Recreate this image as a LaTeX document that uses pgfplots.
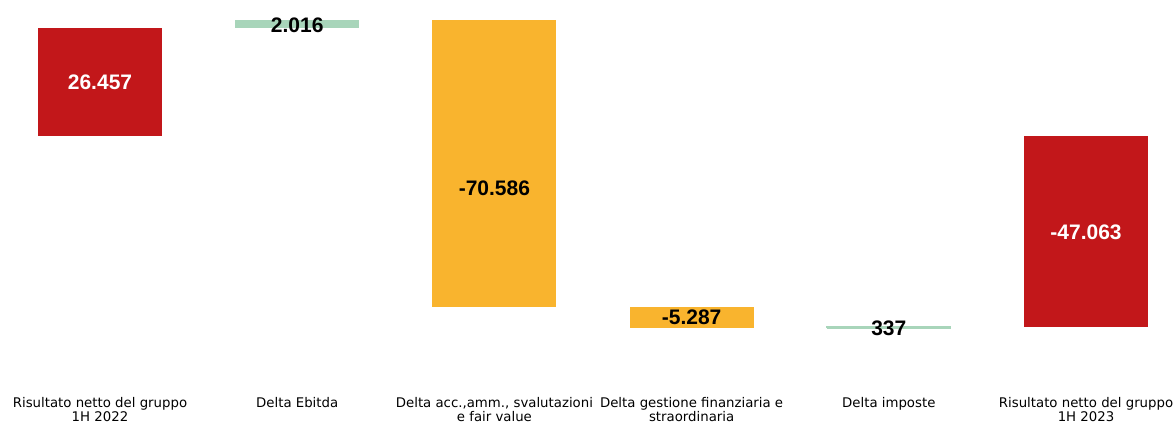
\documentclass[border=0pt]{standalone}
\usepackage{pgfplots}
\pgfplotsset{compat=1.18}
\usepackage{fontspec}
\setmainfont{DejaVu Sans}
\newfontfamily\valfont{Liberation Sans}
\definecolor{barred}{RGB}{194,23,26}
\definecolor{barorange}{RGB}{249,180,46}
\definecolor{bargreen}{RGB}{168,213,186}

\begin{document}
\begin{tikzpicture}
\path[use as bounding box] (0,0) rectangle (1176pt,-423pt);
\begin{axis}[
  at={(0,0)}, anchor=north west,
  scale only axis, width=1176pt, height=385pt,
  xmin=-0.5071, xmax=5.4564, ymin=-61404, ymax=33424,
  axis line style={draw=none},
  major tick length=0pt,
  ytick=\empty,
  xtick={0,1,2,3,4,5},
  xticklabels={{Risultato netto del gruppo\\1H 2022}, {Delta Ebitda}, {Delta acc.,amm., svalutazioni\\e fair value}, {Delta gestione finanziaria e\\straordinaria}, {Delta imposte}, {Risultato netto del gruppo\\1H 2023}},
  xticklabel style={font=\fontsize{13.3}{14.5}\selectfont, align=center, inner sep=0pt, anchor=north, yshift=-11.8pt},
  clip=false,
]
% waterfall bars: (x - w/2, low) .. (x + w/2, high)
\addplot[fill=barred, draw=none, mark=none] coordinates {(-0.3144,0) (0.3144,0) (0.3144,26457) (-0.3144,26457)};
\addplot[fill=bargreen, draw=none, mark=none] coordinates {(0.6856,26457) (1.3144,26457) (1.3144,28473) (0.6856,28473)};
\addplot[fill=barorange, draw=none, mark=none] coordinates {(1.6856,28473) (2.3144,28473) (2.3144,-42113) (1.6856,-42113)};
\addplot[fill=barorange, draw=none, mark=none] coordinates {(2.6856,-42113) (3.3144,-42113) (3.3144,-47400) (2.6856,-47400)};
\addplot[fill=bargreen, draw=bargreen, line width=0.7pt, mark=none] coordinates {(3.6856,-47400) (4.3144,-47400) (4.3144,-47063) (3.6856,-47063) (3.6856,-47400)};
\addplot[fill=barred, draw=none, mark=none] coordinates {(4.6856,0) (5.3144,0) (5.3144,-47063) (4.6856,-47063)};
% value labels
\addplot[only marks, mark=none, nodes near coords, point meta=explicit symbolic,
  nodes near coords style={font=\valfont\bfseries\fontsize{21}{24}\selectfont, text=white, anchor=center, inner sep=0pt}]
  coordinates {(0,13054)[26.457] (5,-23719)[-47.063]};
\addplot[only marks, mark=none, nodes near coords, point meta=explicit symbolic,
  nodes near coords style={font=\valfont\bfseries\fontsize{21}{24}\selectfont, text=black, anchor=center, inner sep=0pt}]
  coordinates {(1,27192)[2.016] (2,-12833)[-70.586] (3,-44828)[-5.287] (4,-47537)[337]};
\end{axis}
\end{tikzpicture}
\end{document}
